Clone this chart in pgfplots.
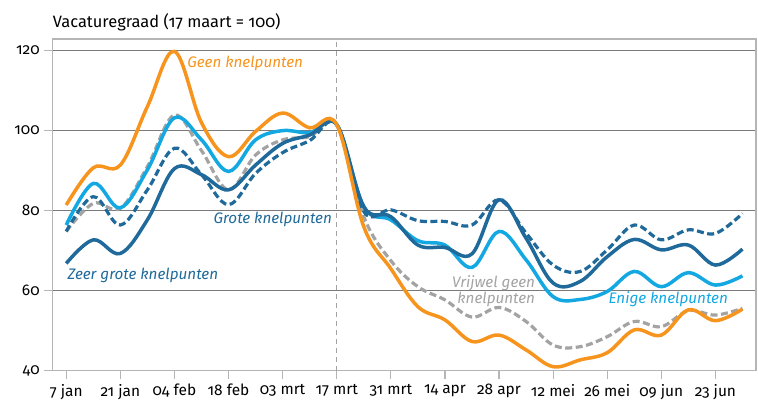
\documentclass[border=0pt]{standalone}
\usepackage{fontspec}
\setmainfont{Fira Sans}[Numbers=OldStyle]
\usepackage{pgfplots}
\usepackage{pgfplotstable}
\pgfplotsset{compat=1.18}
\definecolor{cOr}{HTML}{F7941D}
\definecolor{cLb}{HTML}{13A8E2}
\definecolor{cDb}{HTML}{1F6A9A}
\definecolor{cGr}{HTML}{A3A3A3}
\definecolor{cGrid}{HTML}{7A7A7A}
\definecolor{cBox}{HTML}{B5B5B5}
\pgfplotstableread{
w geen enige zeer grote vrijwel
0 81.4 76.4 66.8 74.8 74.8
1 90.7 86.8 72.7 83.5 81.8
2 91.4 80.7 69.3 76.4 80.6
3 106.0 90.2 77.7 85.2 91.0
4 119.8 103.2 90.5 95.6 103.9
5 102.0 97.7 89.0 89.0 95.0
6 93.5 89.8 85.2 81.5 85.2
7 99.8 97.7 91.4 89.3 93.9
8 104.4 100.0 96.8 94.5 97.7
9 100.7 99.5 98.9 97.5 98.5
10 101.5 101.5 101.5 101.5 101.5
11 76.0 81.0 81.0 79.8 78.5
12 65.5 77.7 78.5 80.2 67.5
13 56.0 72.5 71.4 77.5 61.0
14 52.7 71.4 70.8 77.3 57.7
15 47.3 65.8 69.2 76.4 53.4
16 48.9 74.8 82.7 82.7 55.8
17 45.2 67.7 73.1 74.4 52.3
18 41.0 58.5 61.9 66.4 46.4
19 42.7 57.8 62.3 64.8 46.0
20 44.5 59.8 68.5 70.2 48.5
21 50.2 64.8 72.8 76.4 52.3
22 48.9 61.0 70.2 72.7 51.0
23 55.2 64.5 71.4 75.2 55.0
24 52.5 61.4 66.4 74.3 53.9
25 55.4 63.7 70.4 79.3 55.6
}\data
\begin{document}
\begin{tikzpicture}
\useasboundingbox (-52.7bp,-30.3bp) rectangle (705.3bp,370.7bp);
\begin{axis}[
  at={(0,0)}, anchor=south west,
  scale only axis, width=703.3bp, height=331.7bp,
  xmin=-0.5, xmax=25.5, ymin=40, ymax=122.9,
  axis line style={cBox, line width=1.5bp},
  ytick={40,60,80,100,120},
  xtick={0,2,...,24},
  xticklabels={7 jan,21 jan,04 feb,18 feb,03 mrt,17 mrt,31 mrt,14 apr,28 apr,12 mei,26 mei,09 jun,23 jun},
  ymajorgrids, grid style={cGrid, line width=0.9bp},
  tick align=outside, tick pos=left,
  major tick length=8.5bp,
  tick style={cBox, line width=1.2bp},
  ticklabel style={font=\fontsize{15.5}{17}\selectfont, text=black},
  xticklabel style={yshift=-1.5bp},
  yticklabel style={xshift=-1bp},
  /pgf/number format/assume math mode=true,
  clip=false,
]
\addplot[cGr, line width=1bp, dash pattern=on 5bp off 4bp] coordinates {(10,40) (10,122.9)};
\addplot[cGr, line width=3.2bp, smooth, tension=0.6, dash pattern=on 7bp off 3.5bp] table[x=w,y=vrijwel]{\data};
\addplot[cLb, line width=3.5bp, smooth, tension=0.6] table[x=w,y=enige]{\data};
\addplot[cDb, line width=3.2bp, smooth, tension=0.6, dash pattern=on 7bp off 3.5bp] table[x=w,y=grote]{\data};
\addplot[cDb, line width=3.5bp, smooth, tension=0.6] table[x=w,y=zeer]{\data};
\addplot[cOr, line width=3.5bp, smooth, tension=0.6] table[x=w,y=geen]{\data};
\node[anchor=west, text=cOr, font=\itshape\fontsize{15.3}{17}\selectfont, inner sep=0pt] at (axis cs:4.47,116.7) {Geen knelpunten};
\node[anchor=east, text=cDb, font=\itshape\fontsize{15.3}{17}\selectfont, inner sep=0pt] at (axis cs:9.83,77.7) {Grote knelpunten};
\node[anchor=west, text=cDb, font=\itshape\fontsize{15.3}{17}\selectfont, inner sep=0pt] at (axis cs:0.04,63.9) {Zeer grote knelpunten};
\node[anchor=east, text=cGr, font=\itshape\fontsize{15.3}{16}\selectfont, inner sep=0pt, align=right] at (axis cs:17.34,59.9) {Vrijwel geen\\knelpunten};
\node[anchor=west, text=cLb, font=\itshape\fontsize{15.3}{17}\selectfont, inner sep=0pt] at (axis cs:20.04,57.9) {Enige knelpunten};
\node[anchor=base west, font=\fontsize{16.5}{19}\selectfont, inner sep=0pt] at ([yshift=11.7bp]rel axis cs:0,1) {Vacaturegraad (17 maart = 100)};
\end{axis}
\end{tikzpicture}
\end{document}
